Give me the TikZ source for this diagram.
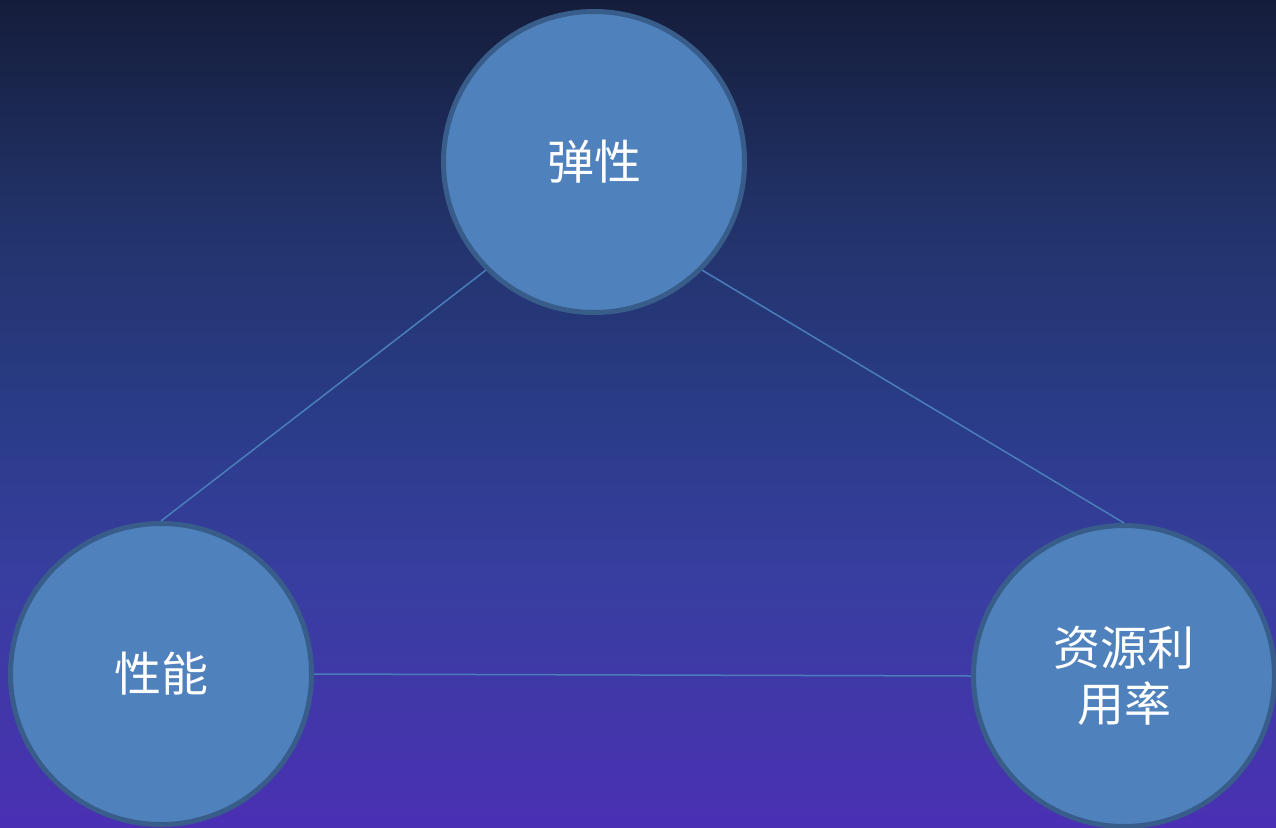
\documentclass[tikz,border=0pt]{standalone}
\usepackage{fontspec}
\newfontfamily\cjk{Noto Sans CJK SC}
\definecolor{bga}{HTML}{151D3B}
\definecolor{bgb}{HTML}{22336A}
\definecolor{bgc}{HTML}{2A3C88}
\definecolor{bgd}{HTML}{383EA0}
\definecolor{bge}{HTML}{4832B0}
\definecolor{bgf}{HTML}{4A2FB5}
\definecolor{cfill}{HTML}{4F81BD}
\definecolor{cdraw}{HTML}{385D8A}
\definecolor{lcol}{HTML}{4A7EBB}
\tikzset{
  ball/.style={circle, fill=cfill, draw=cdraw, line width=5pt, minimum size=301pt, inner sep=0pt,
    text=white, align=center, font=\cjk\fontsize{47}{56}\selectfont},
  link/.style={draw=lcol, line width=1.5pt},
  band/.style={shading=axis, shading angle=0}
}
\begin{document}
\begin{tikzpicture}[x=1pt,y=-1pt]
\shade[top color=bga, bottom color=bgb] (0,0) rectangle (1276,220.5);
\shade[top color=bgb, bottom color=bgc] (0,220) rectangle (1276,420.5);
\shade[top color=bgc, bottom color=bgd] (0,420) rectangle (1276,580.5);
\shade[top color=bgd, bottom color=bge] (0,580) rectangle (1276,800.5);
\shade[top color=bge, bottom color=bgf] (0,800) rectangle (1276,827);
\useasboundingbox (0,0) rectangle (1276,827);
\node[ball] (top) at (594,162) {弹性};
\node[ball] (left) at (161,674) {性能};
\node[ball] (right) at (1124,676) {资源利\\用率};
\draw[link] (top.south west) -- (left.north);
\draw[link] (top.south east) -- (right.north);
\draw[link] (left.east) -- (right.west);
\end{tikzpicture}
\end{document}
